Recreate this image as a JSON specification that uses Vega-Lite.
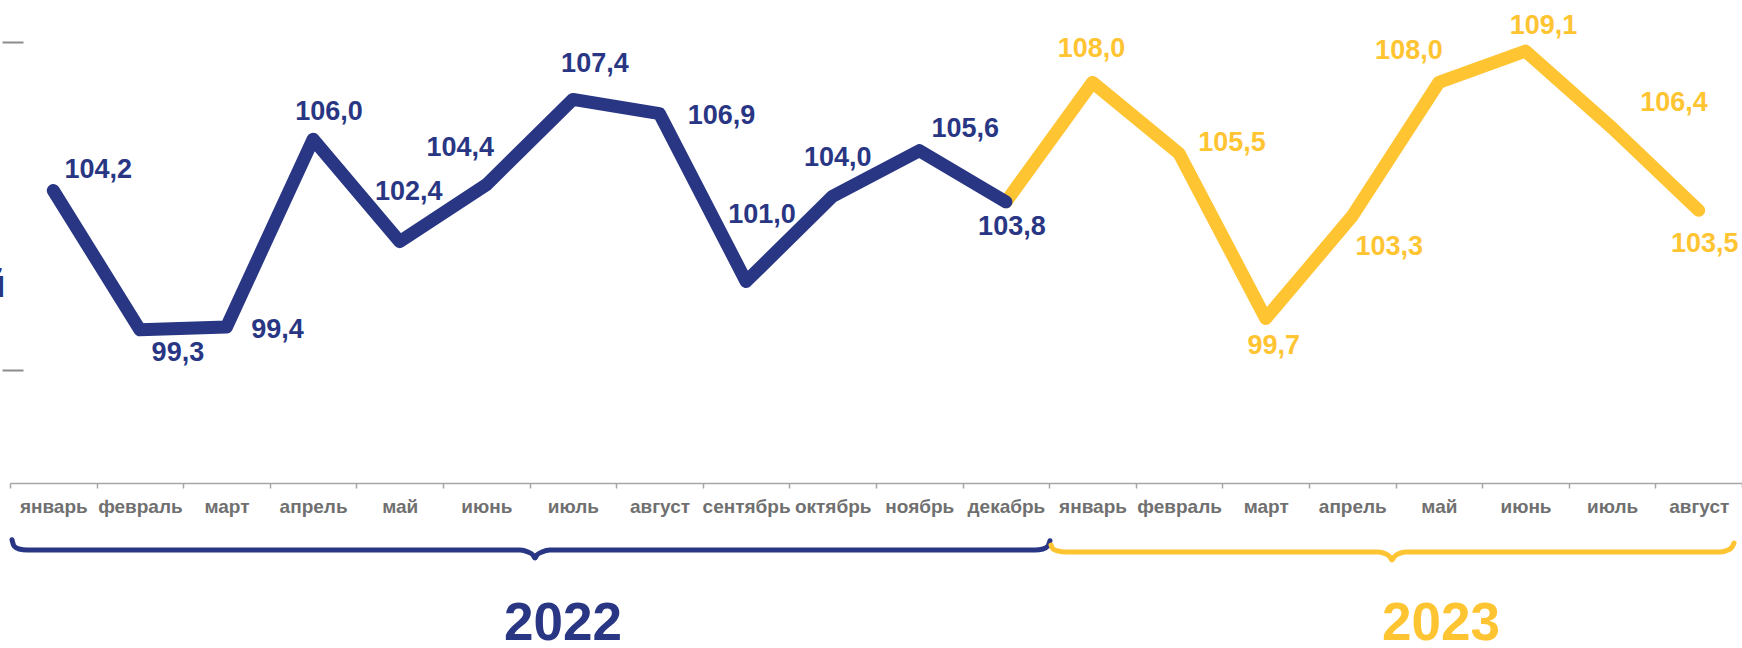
{
  "$schema": "https://vega.github.io/schema/vega-lite/v6.json",
  "width": 1732,
  "height": 483,
  "autosize": {"type": "none"},
  "padding": {"left": 10, "top": 0, "right": 0, "bottom": 165},
  "background": "white",
  "config": {
    "view": {"stroke": null},
    "font": "Liberation Sans",
    "locale": {"number": {"decimal": ",", "thousands": " ", "grouping": [3], "currency": ["", " ₽"]}}
  },
  "datasets": {
    "months": [
      {"period": "январь 2022", "year": 2022, "value": 104.2},
      {"period": "февраль 2022", "year": 2022, "value": 99.3},
      {"period": "март 2022", "year": 2022, "value": 99.4},
      {"period": "апрель 2022", "year": 2022, "value": 106.0},
      {"period": "май 2022", "year": 2022, "value": 102.4},
      {"period": "июнь 2022", "year": 2022, "value": 104.4},
      {"period": "июль 2022", "year": 2022, "value": 107.4},
      {"period": "август 2022", "year": 2022, "value": 106.9},
      {"period": "сентябрь 2022", "year": 2022, "value": 101.0},
      {"period": "октябрь 2022", "year": 2022, "value": 104.0},
      {"period": "ноябрь 2022", "year": 2022, "value": 105.6},
      {"period": "декабрь 2022", "year": 2022, "value": 103.8},
      {"period": "январь 2023", "year": 2023, "value": 108.0},
      {"period": "февраль 2023", "year": 2023, "value": 105.5},
      {"period": "март 2023", "year": 2023, "value": 99.7},
      {"period": "апрель 2023", "year": 2023, "value": 103.3},
      {"period": "май 2023", "year": 2023, "value": 108.0},
      {"period": "июнь 2023", "year": 2023, "value": 109.1},
      {"period": "июль 2023", "year": 2023, "value": 106.4},
      {"period": "август 2023", "year": 2023, "value": 103.5}
    ],
    "braces": [
      {"year": 2022, "pos": 0.023, "level": 91.92},
      {"year": 2022, "pos": 0.046, "level": 91.699},
      {"year": 2022, "pos": 0.104, "level": 91.593},
      {"year": 2022, "pos": 0.196, "level": 91.558},
      {"year": 2022, "pos": 5.889, "level": 91.558},
      {"year": 2022, "pos": 5.982, "level": 91.488},
      {"year": 2022, "pos": 6.039, "level": 91.383},
      {"year": 2022, "pos": 6.062, "level": 91.277},
      {"year": 2022, "pos": 6.085, "level": 91.383},
      {"year": 2022, "pos": 6.143, "level": 91.488},
      {"year": 2022, "pos": 6.236, "level": 91.558},
      {"year": 2022, "pos": 11.836, "level": 91.558},
      {"year": 2022, "pos": 11.928, "level": 91.593},
      {"year": 2022, "pos": 11.986, "level": 91.699},
      {"year": 2022, "pos": 12.009, "level": 91.885},
      {"year": 2023, "pos": 12.021, "level": 91.734},
      {"year": 2023, "pos": 12.044, "level": 91.593},
      {"year": 2023, "pos": 12.102, "level": 91.523},
      {"year": 2023, "pos": 12.194, "level": 91.488},
      {"year": 2023, "pos": 15.797, "level": 91.488},
      {"year": 2023, "pos": 15.889, "level": 91.418},
      {"year": 2023, "pos": 15.935, "level": 91.312},
      {"year": 2023, "pos": 15.958, "level": 91.207},
      {"year": 2023, "pos": 15.982, "level": 91.312},
      {"year": 2023, "pos": 16.028, "level": 91.418},
      {"year": 2023, "pos": 16.12, "level": 91.488},
      {"year": 2023, "pos": 19.746, "level": 91.488},
      {"year": 2023, "pos": 19.838, "level": 91.558},
      {"year": 2023, "pos": 19.885, "level": 91.664},
      {"year": 2023, "pos": 19.908, "level": 91.804}
    ],
    "years": [
      {"year": 2022, "pos": 6.386, "level": 88.95},
      {"year": 2023, "pos": 16.524, "level": 88.95}
    ],
    "fragment": [
      {"t": "й", "pos": -0.05, "level": 100.454}
    ]
  },
  "layer": [
    {
      "data": {"name": "months"},
      "encoding": {
        "x": {
          "field": "period", "type": "ordinal",
          "scale": {
            "domain": ["январь 2022", "февраль 2022", "март 2022", "апрель 2022", "май 2022", "июнь 2022", "июль 2022", "август 2022", "сентябрь 2022", "октябрь 2022", "ноябрь 2022", "декабрь 2022", "январь 2023", "февраль 2023", "март 2023", "апрель 2023", "май 2023", "июнь 2023", "июль 2023", "август 2023"],
            "paddingInner": 0, "paddingOuter": 0
          },
          "axis": {
            "title": null, "labelExpr": "split(datum.label, ' ')[0]", "labelAngle": 0,
            "labelFont": "Liberation Sans", "labelFontSize": 19, "labelFontWeight": "bold", "labelColor": "#707070",
            "labelPadding": 9, "labelOverlap": false, "labelBound": false, "labelFlush": false,
            "domainColor": "#a6a6a6", "domainWidth": 1.5, "tickColor": "#a6a6a6", "tickWidth": 1.5,
            "tickBand": "extent", "tickSize": 5, "grid": false
          }
        },
        "y": {
          "field": "value", "type": "quantitative",
          "scale": {"domain": [93.914, 110.897], "zero": false, "nice": false},
          "axis": {
            "values": [97.89, 109.42], "labels": false, "domain": false, "grid": false, "title": null,
            "tickSize": 21, "tickWidth": 2, "tickColor": "#8c8c8c", "offset": -13
          }
        }
      },
      "layer": [
        {
          "transform": [{"filter": "datum.year === 2023 || datum.period === 'декабрь 2022'"}],
          "mark": {"type": "line", "color": "#FFC432", "strokeWidth": 13, "strokeCap": "round", "strokeJoin": "round"}
        },
        {
          "transform": [{"filter": "datum.year === 2022"}],
          "mark": {"type": "line", "color": "#293684", "strokeWidth": 13, "strokeCap": "round", "strokeJoin": "round"}
        },
        {
          "encoding": {"text": {"field": "value", "type": "quantitative", "format": ".1f"}},
          "layer": [
            {"transform": [{"filter": "datum.period === 'январь 2022'"}], "mark": {"type": "text", "dx": 45, "dy": -20, "color": "#293684", "fontSize": 27, "fontWeight": "bold", "font": "Liberation Sans", "baseline": "middle"}},
            {"transform": [{"filter": "datum.period === 'февраль 2022'"}], "mark": {"type": "text", "dx": 38, "dy": 23, "color": "#293684", "fontSize": 27, "fontWeight": "bold", "font": "Liberation Sans", "baseline": "middle"}},
            {"transform": [{"filter": "datum.period === 'март 2022'"}], "mark": {"type": "text", "dx": 51, "dy": 3, "color": "#293684", "fontSize": 27, "fontWeight": "bold", "font": "Liberation Sans", "baseline": "middle"}},
            {"transform": [{"filter": "datum.period === 'апрель 2022'"}], "mark": {"type": "text", "dx": 16, "dy": -27, "color": "#293684", "fontSize": 27, "fontWeight": "bold", "font": "Liberation Sans", "baseline": "middle"}},
            {"transform": [{"filter": "datum.period === 'май 2022'"}], "mark": {"type": "text", "dx": 9, "dy": -50, "color": "#293684", "fontSize": 27, "fontWeight": "bold", "font": "Liberation Sans", "baseline": "middle"}},
            {"transform": [{"filter": "datum.period === 'июнь 2022'"}], "mark": {"type": "text", "dx": -26, "dy": -37, "color": "#293684", "fontSize": 27, "fontWeight": "bold", "font": "Liberation Sans", "baseline": "middle"}},
            {"transform": [{"filter": "datum.period === 'июль 2022'"}], "mark": {"type": "text", "dx": 22, "dy": -35, "color": "#293684", "fontSize": 27, "fontWeight": "bold", "font": "Liberation Sans", "baseline": "middle"}},
            {"transform": [{"filter": "datum.period === 'август 2022'"}], "mark": {"type": "text", "dx": 62, "dy": 2, "color": "#293684", "fontSize": 27, "fontWeight": "bold", "font": "Liberation Sans", "baseline": "middle"}},
            {"transform": [{"filter": "datum.period === 'сентябрь 2022'"}], "mark": {"type": "text", "dx": 16, "dy": -66, "color": "#293684", "fontSize": 27, "fontWeight": "bold", "font": "Liberation Sans", "baseline": "middle"}},
            {"transform": [{"filter": "datum.period === 'октябрь 2022'"}], "mark": {"type": "text", "dx": 5, "dy": -38, "color": "#293684", "fontSize": 27, "fontWeight": "bold", "font": "Liberation Sans", "baseline": "middle"}},
            {"transform": [{"filter": "datum.period === 'ноябрь 2022'"}], "mark": {"type": "text", "dx": 46, "dy": -22, "color": "#293684", "fontSize": 27, "fontWeight": "bold", "font": "Liberation Sans", "baseline": "middle"}},
            {"transform": [{"filter": "datum.period === 'декабрь 2022'"}], "mark": {"type": "text", "dx": 6, "dy": 25, "color": "#293684", "fontSize": 27, "fontWeight": "bold", "font": "Liberation Sans", "baseline": "middle"}},
            {"transform": [{"filter": "datum.period === 'январь 2023'"}], "mark": {"type": "text", "dx": -1, "dy": -33, "color": "#FFC432", "fontSize": 27, "fontWeight": "bold", "font": "Liberation Sans", "baseline": "middle"}},
            {"transform": [{"filter": "datum.period === 'февраль 2023'"}], "mark": {"type": "text", "dx": 53, "dy": -10, "color": "#FFC432", "fontSize": 27, "fontWeight": "bold", "font": "Liberation Sans", "baseline": "middle"}},
            {"transform": [{"filter": "datum.period === 'март 2023'"}], "mark": {"type": "text", "dx": 8, "dy": 28, "color": "#FFC432", "fontSize": 27, "fontWeight": "bold", "font": "Liberation Sans", "baseline": "middle"}},
            {"transform": [{"filter": "datum.period === 'апрель 2023'"}], "mark": {"type": "text", "dx": 37, "dy": 31, "color": "#FFC432", "fontSize": 27, "fontWeight": "bold", "font": "Liberation Sans", "baseline": "middle"}},
            {"transform": [{"filter": "datum.period === 'май 2023'"}], "mark": {"type": "text", "dx": -30, "dy": -31, "color": "#FFC432", "fontSize": 27, "fontWeight": "bold", "font": "Liberation Sans", "baseline": "middle"}},
            {"transform": [{"filter": "datum.period === 'июнь 2023'"}], "mark": {"type": "text", "dx": 18, "dy": -25, "color": "#FFC432", "fontSize": 27, "fontWeight": "bold", "font": "Liberation Sans", "baseline": "middle"}},
            {"transform": [{"filter": "datum.period === 'июль 2023'"}], "mark": {"type": "text", "dx": 62, "dy": -25, "color": "#FFC432", "fontSize": 27, "fontWeight": "bold", "font": "Liberation Sans", "baseline": "middle"}},
            {"transform": [{"filter": "datum.period === 'август 2023'"}], "mark": {"type": "text", "dx": 6, "dy": 34, "color": "#FFC432", "fontSize": 27, "fontWeight": "bold", "font": "Liberation Sans", "baseline": "middle"}}
          ]
        }
      ]
    },
    {
      "encoding": {
        "x": {"field": "pos", "type": "quantitative", "scale": {"domain": [0, 20], "nice": false, "zero": false}, "axis": null},
        "y": {"field": "level", "type": "quantitative"},
        "color": {"field": "year", "type": "nominal", "scale": {"domain": [2022, 2023], "range": ["#293684", "#FFC432"]}, "legend": null}
      },
      "layer": [
        {
          "data": {"name": "braces"},
          "mark": {"type": "line", "strokeWidth": 5, "strokeCap": "round", "strokeJoin": "round", "interpolate": "monotone"}
        },
        {
          "data": {"name": "years"},
          "encoding": {"text": {"field": "year", "type": "nominal"}},
          "mark": {"type": "text", "fontSize": 53, "fontWeight": "bold", "font": "Liberation Sans", "baseline": "middle", "align": "center"}
        },
        {
          "data": {"name": "fragment"},
          "encoding": {"text": {"field": "t", "type": "nominal"}, "color": {"value": "#293684"}},
          "mark": {"type": "text", "fontSize": 38, "fontWeight": "bold", "font": "Liberation Sans", "baseline": "alphabetic", "align": "right"}
        }
      ]
    }
  ],
  "resolve": {"scale": {"x": "independent"}}
}
